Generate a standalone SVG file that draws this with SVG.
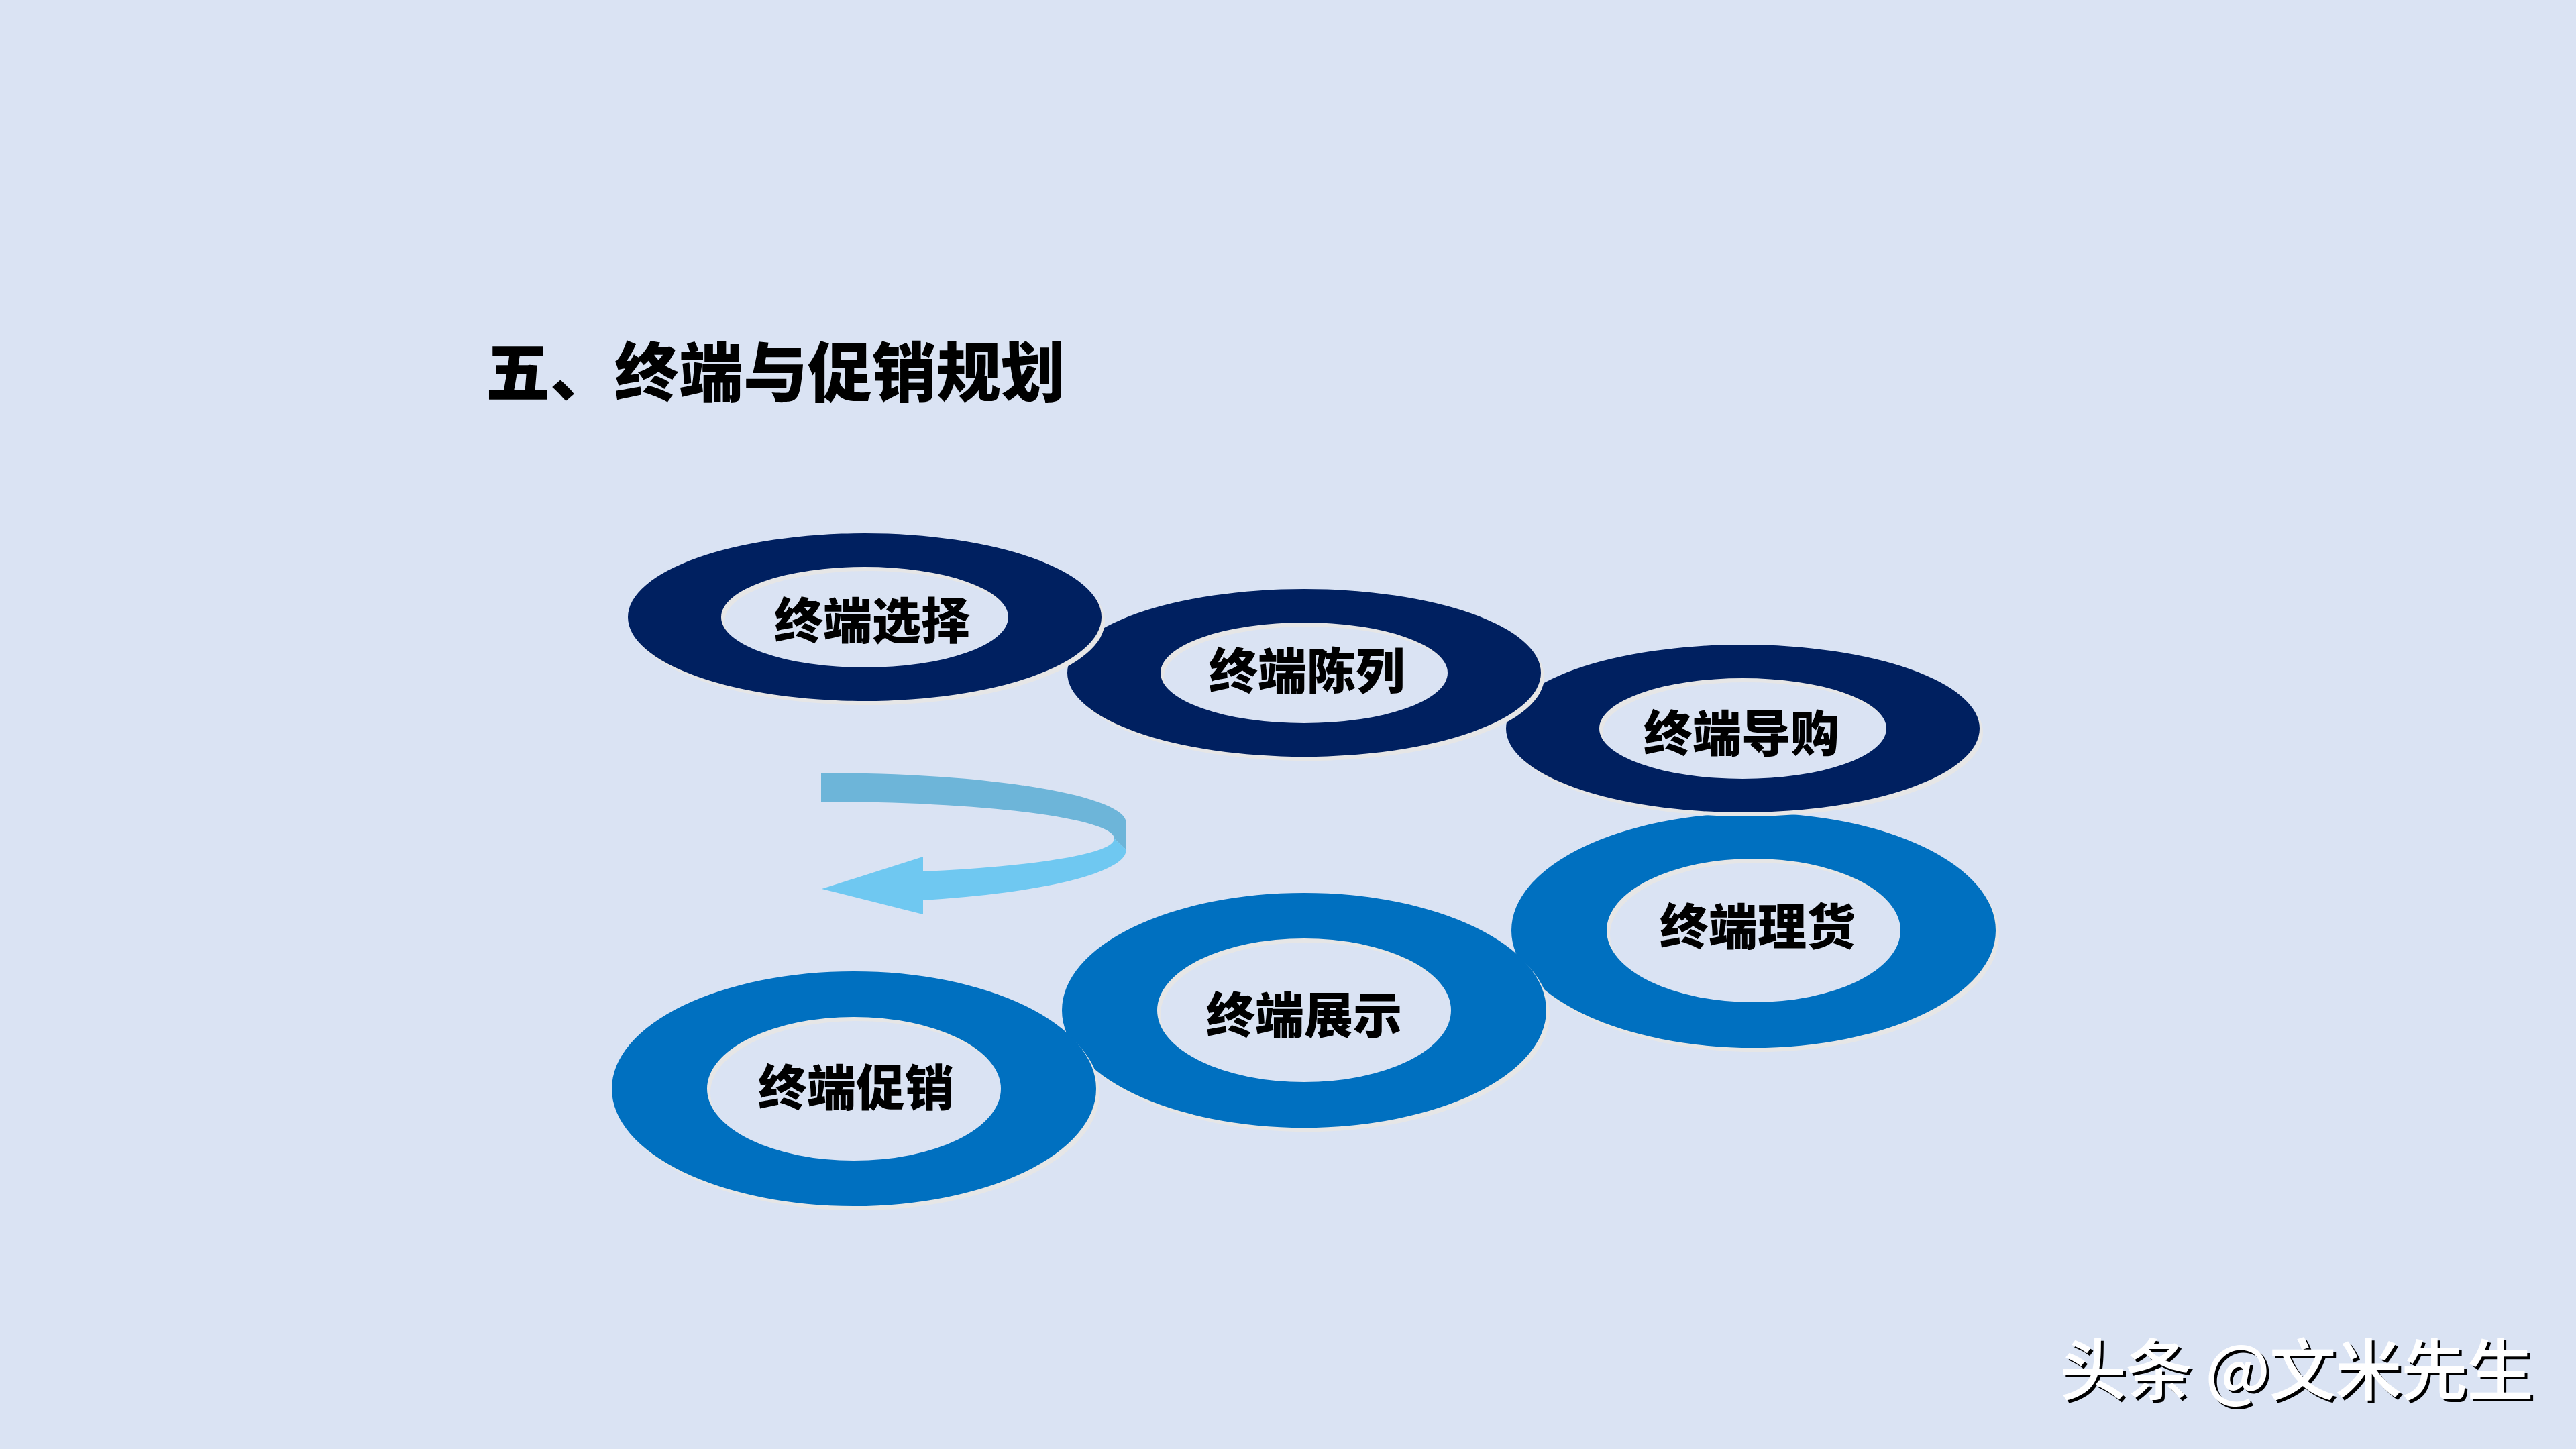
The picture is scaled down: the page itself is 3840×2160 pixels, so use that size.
<svg xmlns="http://www.w3.org/2000/svg" xmlns:xlink="http://www.w3.org/1999/xlink" width="3840" height="2160" viewBox="0 0 3840 2160">
<style>
.bg{fill:#DAE3F3}
.navy{fill:#002060}
.blue{fill:#0070C0}
.shadow{fill:#E6E6E6}
.label{font-family:"Noto Sans CJK SC","Noto Sans",sans-serif;font-weight:900;font-size:73px;fill:#000;text-anchor:middle}
.title{font-family:"Noto Sans CJK SC","Noto Sans",sans-serif;font-weight:900;font-size:96px;fill:#000}
.wm{font-family:"Noto Sans CJK SC","Noto Sans",sans-serif;font-weight:500;font-size:100px}
.arrowDark{fill:#6DB5D9}
.arrowLight{fill:#6FC8F1}
</style>
<defs>
<path id="ringA" fill-rule="evenodd" d="M-353,0 A353,125 0 1,0 353,0 A353,125 0 1,0 -353,0 Z M-214,0 A214,75 0 1,0 214,0 A214,75 0 1,0 -214,0 Z"/>
<path id="ringB" fill-rule="evenodd" d="M-361,0 A361,175 0 1,0 361,0 A361,175 0 1,0 -361,0 Z M-219,0 A219,107 0 1,0 219,0 A219,107 0 1,0 -219,0 Z"/>
</defs>
<rect class="bg" x="0" y="0" width="3840" height="2160"/>
<text id="title" class="title" x="724" y="590">五、终端与促销规划</text>
<g id="connectors">
<path class="arrowDark" d="M1224,1152 A455,75 0 0,1 1679,1227 L1679,1267 L1661,1250 A437,55 0 0,0 1224,1195 Z"/>
<path class="arrowLight" d="M1661,1250 L1679,1267 A455,80 0 0,1 1376,1342 L1376,1363 L1225,1325 L1376,1277 L1376,1299 A437,52 0 0,0 1661,1250 Z"/>
</g>
<g id="node4" transform="translate(2614,1387)">
<use xlink:href="#ringB" class="shadow" x="5" y="6"/>
<use xlink:href="#ringB" class="blue"/>
<text class="label" x="6" y="21">终端理货</text>
</g>
<g id="node5" transform="translate(1944,1506)">
<use xlink:href="#ringB" class="shadow" x="5" y="6"/>
<use xlink:href="#ringB" class="blue"/>
<text class="label" x="0" y="34">终端展示</text>
</g>
<g id="node6" transform="translate(1273,1623)">
<use xlink:href="#ringB" class="shadow" x="5" y="6"/>
<use xlink:href="#ringB" class="blue"/>
<text class="label" x="3" y="25">终端促销</text>
</g>
<g id="node3" transform="translate(2598,1086)">
<use xlink:href="#ringA" class="shadow" x="5" y="6"/>
<use xlink:href="#ringA" class="navy"/>
<text class="label" x="-2" y="34">终端导购</text>
</g>
<g id="node2" transform="translate(1944,1003)">
<use xlink:href="#ringA" class="shadow" x="5" y="6"/>
<use xlink:href="#ringA" class="navy"/>
<text class="label" x="4" y="24">终端陈列</text>
</g>
<g id="node1" transform="translate(1289,920)">
<use xlink:href="#ringA" class="shadow" x="5" y="6"/>
<use xlink:href="#ringA" class="navy"/>
<text class="label" x="11" y="32">终端选择</text>
</g>
<g id="watermark">
<text class="wm" x="3074" y="2083" fill="#000" textLength="707" lengthAdjust="spacing">头条 @文米先生</text>
<text class="wm" x="3070" y="2079" fill="#FFFFFF" textLength="707" lengthAdjust="spacing">头条 @文米先生</text>
</g>
</svg>
